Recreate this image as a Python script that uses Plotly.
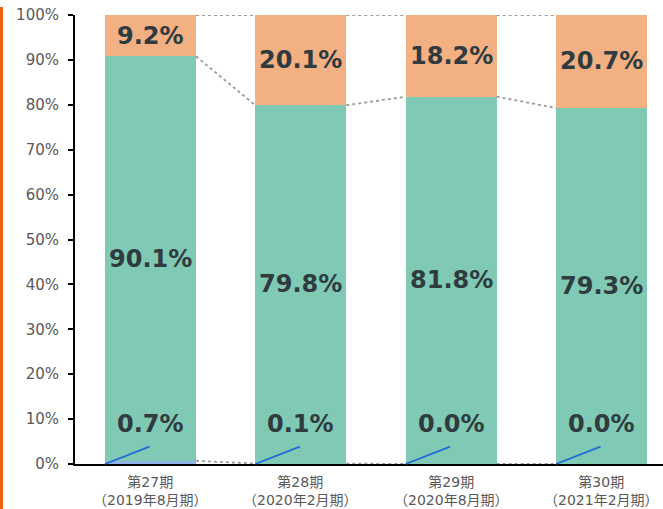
import plotly.graph_objects as go

cat_line1 = ["第27期", "第28期", "第29期", "第30期"]
cat_line2 = ["（2019年8月期）", "（2020年2月期）", "（2020年8月期）", "（2021年2月期）"]
bottom_vals = [0.7, 0.1, 0.0, 0.0]
green_vals = [90.1, 79.8, 81.8, 79.3]
orange_vals = [9.2, 20.1, 18.2, 20.7]
y_ticks = [0, 10, 20, 30, 40, 50, 60, 70, 80, 90, 100]

W, H = 663, 509
ML, MR, MT, MB = 75, 0, 15, 45
BAR_W = 0.605
X_RANGE = [-0.502, 3.409]

C_BLUE = "#8fb3e6"
C_GREEN = "#80c9b4"
C_ORANGE = "#f2b083"
C_TEXT = "#2f3b3f"
C_TICK = "#595959"

xs = list(range(len(cat_line1)))
PLOT_H = H - MT - MB

fig = go.Figure()
for vals, col in [(bottom_vals, C_BLUE), (green_vals, C_GREEN), (orange_vals, C_ORANGE)]:
    fig.add_trace(go.Bar(x=xs, y=vals, width=BAR_W, marker=dict(color=col, line=dict(width=0)),
                         showlegend=False, hoverinfo="skip"))

# connector lines (dotted) between cumulative levels
cum1 = bottom_vals
cum2 = [b + g for b, g in zip(bottom_vals, green_vals)]
cum3 = [b + g + o for b, g, o in zip(bottom_vals, green_vals, orange_vals)]
for cum in (cum1, cum2, cum3):
    for i in range(len(xs) - 1):
        fig.add_trace(go.Scatter(
            x=[xs[i] + BAR_W / 2, xs[i + 1] - BAR_W / 2], y=[cum[i], cum[i + 1]],
            mode="lines", line=dict(color="#9a9a9a", width=1.8, dash="dot"),
            showlegend=False, hoverinfo="skip", cliponaxis=False))

label_font = dict(family="DejaVu Sans", size=24, color=C_TEXT)
cat_font = dict(family="DejaVu Sans, Noto Sans CJK JP", size=14, color=C_TICK)
anns = []
for i in xs:
    anns.append(dict(x=xs[i], y=bottom_vals[i] + green_vals[i] / 2, text=f"<b>{green_vals[i]:.1f}%</b>",
                     showarrow=False, font=label_font, xref="x", yref="y"))
    anns.append(dict(x=xs[i], y=cum2[i] + orange_vals[i] / 2, text=f"<b>{orange_vals[i]:.1f}%</b>",
                     showarrow=False, font=label_font, xref="x", yref="y"))
    anns.append(dict(x=xs[i], y=0, yshift=40, text=f"<b>{bottom_vals[i]:.1f}%</b>",
                     showarrow=False, font=label_font, xref="x", yref="y"))
    anns.append(dict(x=xs[i] - BAR_W / 2, y=0, text="", showarrow=True, arrowhead=0,
                     arrowwidth=1.8, arrowcolor="#1f6ad6", ax=46, ay=-18,
                     xref="x", yref="y"))
    anns.append(dict(x=xs[i], y=-MB / PLOT_H, text=cat_line1[i] + "<br>" + cat_line2[i],
                     showarrow=False, font=cat_font, xref="x", yref="paper", yanchor="bottom",
                     borderpad=0))

fig.update_layout(
    width=W, height=H,
    margin=dict(l=ML, r=MR, t=MT, b=MB, autoexpand=False),
    barmode="stack",
    plot_bgcolor="white", paper_bgcolor="white",
    annotations=anns,
    shapes=[dict(type="rect", xref="paper", yref="paper",
                 x0=-ML / (W - ML - MR), x1=-(ML - 3) / (W - ML - MR),
                 y0=-MB / PLOT_H, y1=1 + (MT - 7) / PLOT_H,
                 fillcolor="#e8630c", line=dict(width=0), layer="above")],
    xaxis=dict(range=X_RANGE, tickvals=xs, showticklabels=False, showgrid=False, zeroline=False,
               showline=True, linecolor="black", linewidth=2, ticks="", automargin=False),
    yaxis=dict(range=[0, 100], tickvals=y_ticks, ticktext=[f"{v}%" for v in y_ticks],
               showgrid=False, zeroline=False, showline=True, linecolor="black", linewidth=2,
               ticks="outside", ticklen=5, tickwidth=2, tickcolor="black", automargin=False,
               ticklabelstandoff=6,
               tickfont=dict(family="DejaVu Sans", size=15, color=C_TICK)),
)

fig.write_html("out.html", config={"displayModeBar": False},
               post_script="document.body.style.margin='0';document.body.style.overflow='hidden';")
